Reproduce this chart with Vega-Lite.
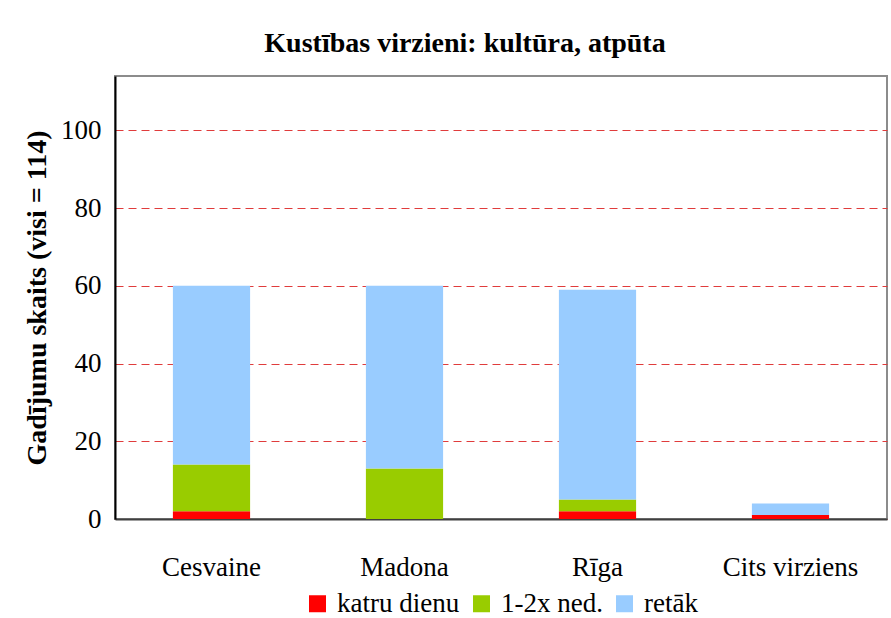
{
  "$schema": "https://vega.github.io/schema/vega-lite/v6.json",
  "autosize": "none",
  "width": 772,
  "height": 443,
  "padding": {"left": 115, "top": 76, "right": 4, "bottom": 99},
  "background": "white",
  "title": {
    "text": "Kustības virzieni: kultūra, atpūta",
    "font": "Liberation Serif",
    "fontSize": 28,
    "fontWeight": "bold",
    "color": "black",
    "anchor": "middle",
    "frame": "group",
    "baseline": "alphabetic",
    "offset": 24,
    "dy": 28,
    "dx": -36
  },
  "data": {
    "values": [
      {"virziens": "Cesvaine", "biezums": "katru dienu", "ord": 1, "skaits": 2},
      {"virziens": "Cesvaine", "biezums": "1-2x ned.", "ord": 2, "skaits": 12},
      {"virziens": "Cesvaine", "biezums": "retāk", "ord": 3, "skaits": 46},
      {"virziens": "Madona", "biezums": "katru dienu", "ord": 1, "skaits": 0},
      {"virziens": "Madona", "biezums": "1-2x ned.", "ord": 2, "skaits": 13},
      {"virziens": "Madona", "biezums": "retāk", "ord": 3, "skaits": 47},
      {"virziens": "Rīga", "biezums": "katru dienu", "ord": 1, "skaits": 2},
      {"virziens": "Rīga", "biezums": "1-2x ned.", "ord": 2, "skaits": 3},
      {"virziens": "Rīga", "biezums": "retāk", "ord": 3, "skaits": 54},
      {"virziens": "Cits virziens", "biezums": "katru dienu", "ord": 1, "skaits": 1},
      {"virziens": "Cits virziens", "biezums": "1-2x ned.", "ord": 2, "skaits": 0},
      {"virziens": "Cits virziens", "biezums": "retāk", "ord": 3, "skaits": 3}
    ]
  },
  "mark": {"type": "bar"},
  "encoding": {
    "x": {
      "field": "virziens",
      "type": "nominal",
      "sort": ["Cesvaine", "Madona", "Rīga", "Cits virziens"],
      "scale": {"paddingInner": 0.6, "paddingOuter": 0.3},
      "axis": {
        "title": null,
        "labelAngle": 0,
        "labelFontSize": 27,
        "labelColor": "black",
        "labelPadding": 35,
        "ticks": false,
        "tickSize": 0,
        "domainColor": "#404040",
        "domainWidth": 2
      }
    },
    "y": {
      "field": "skaits",
      "type": "quantitative",
      "stack": "zero",
      "scale": {"domain": [0, 114], "nice": false},
      "axis": {
        "title": "Gadījumu skaits (visi = 114)",
        "titleFontSize": 28,
        "titleFontWeight": "bold",
        "titleColor": "black",
        "titlePadding": 9,
        "values": [0, 20, 40, 60, 80, 100],
        "labelFontSize": 27,
        "labelColor": "black",
        "labelPadding": 14,
        "ticks": false,
        "tickSize": 0,
        "domainColor": "black",
        "domainWidth": 2,
        "grid": true,
        "gridColor": "#e03c3c",
        "gridDash": [8, 5],
        "gridWidth": 1
      }
    },
    "color": {
      "field": "biezums",
      "type": "nominal",
      "scale": {
        "domain": ["katru dienu", "1-2x ned.", "retāk"],
        "range": ["#ff0000", "#99cc00", "#99ccff"]
      },
      "legend": {
        "title": null,
        "orient": "bottom",
        "direction": "horizontal",
        "offset": 10,
        "symbolType": "square",
        "symbolSize": 289,
        "symbolStrokeWidth": 0,
        "symbolOpacity": 1,
        "labelFont": "Liberation Serif",
        "labelFontSize": 27,
        "labelColor": "black",
        "labelOffset": 6,
        "labelLimit": 300,
        "columnPadding": 8
      }
    },
    "order": {"field": "ord", "type": "quantitative"}
  },
  "config": {
    "font": "Liberation Serif",
    "view": {"stroke": "#8c8c8c", "strokeWidth": 2},
    "axis": {"gridCap": "butt", "labelFont": "Liberation Serif", "titleFont": "Liberation Serif"},
    "legend": {"labelFont": "Liberation Serif", "layout": {"bottom": {"anchor": "middle"}}}
  }
}
